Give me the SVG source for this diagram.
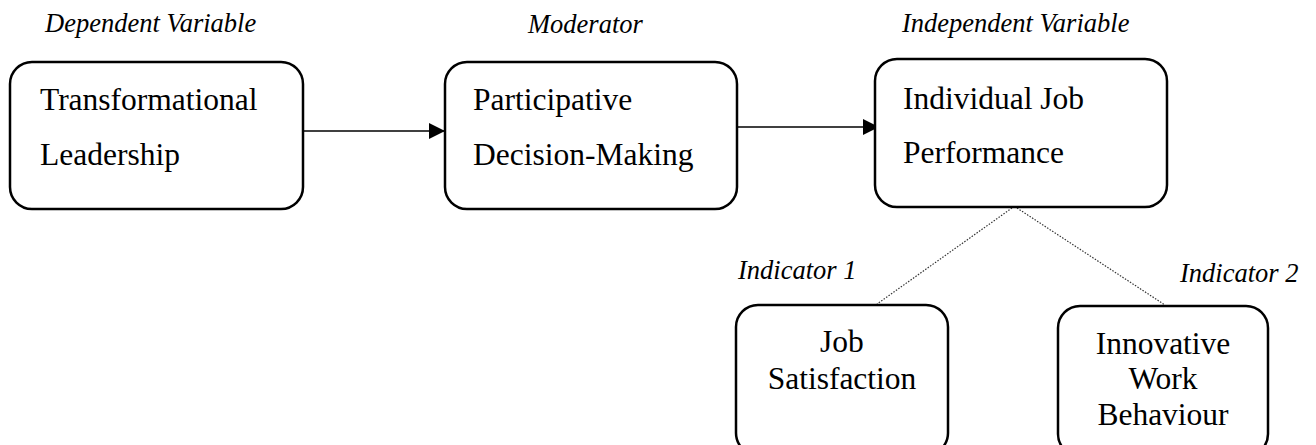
<svg xmlns="http://www.w3.org/2000/svg" width="1316" height="445" viewBox="0 0 1316 445">
<style>
.box{fill:#fff;stroke:#000;stroke-width:2.5}
.t{font-size:31.5px;fill:#000}
.c{text-anchor:middle}
.lbl{font-size:26.5px;font-style:italic;fill:#000}
.arrow{stroke:#000;stroke-width:1.4;fill:none}
.dot{stroke:#333;stroke-width:1.2;stroke-dasharray:1.5 1.5;fill:none}
</style>
<defs>
<marker id="ah" viewBox="0 0 10 10" refX="10" refY="5" markerUnits="userSpaceOnUse" markerWidth="17" markerHeight="16" orient="auto">
<path d="M0,0 L10,5 L0,10 Z" fill="#000"/>
</marker>
</defs>
<g id="labels" font-family="Liberation Serif, serif">
<text class="lbl" x="45" y="32">Dependent Variable</text>
<text class="lbl" x="528" y="33">Moderator</text>
<text class="lbl" x="902" y="32">Independent Variable</text>
<text class="lbl" x="738" y="279">Indicator 1</text>
<text class="lbl" x="1180" y="282">Indicator 2</text>
</g>
<g id="connectors">
<line class="arrow" x1="303" y1="131" x2="445" y2="131" marker-end="url(#ah)"/>
<line class="arrow" x1="737" y1="127" x2="879" y2="127" marker-end="url(#ah)"/>
<line class="dot" x1="1012" y1="208" x2="877" y2="304"/>
<line class="dot" x1="1017" y1="208" x2="1165" y2="305"/>
</g>
<g id="node-transformational-leadership" font-family="Liberation Serif, serif">
<rect class="box" x="10" y="62" width="293" height="147" rx="22" ry="22"/>
<text class="t" x="40" y="110">Transformational</text>
<text class="t" x="40" y="165">Leadership</text>
</g>
<g id="node-participative-decision-making" font-family="Liberation Serif, serif">
<rect class="box" x="445" y="62" width="292" height="147" rx="22" ry="22"/>
<text class="t" x="473" y="110">Participative</text>
<text class="t" x="473" y="165">Decision-Making</text>
</g>
<g id="node-individual-job-performance" font-family="Liberation Serif, serif">
<rect class="box" x="875" y="59" width="292" height="148" rx="22" ry="22"/>
<text class="t" x="903" y="109">Individual Job</text>
<text class="t" x="903" y="163">Performance</text>
</g>
<g id="node-job-satisfaction" font-family="Liberation Serif, serif">
<rect class="box" x="736" y="305" width="212" height="150" rx="22" ry="22"/>
<text class="t c" x="842" y="352">Job</text>
<text class="t c" x="842" y="389">Satisfaction</text>
</g>
<g id="node-innovative-work-behaviour" font-family="Liberation Serif, serif">
<rect class="box" x="1058" y="306" width="210" height="150" rx="22" ry="22"/>
<text class="t c" x="1163" y="354">Innovative</text>
<text class="t c" x="1163" y="389">Work</text>
<text class="t c" x="1163" y="425">Behaviour</text>
</g>
</svg>
